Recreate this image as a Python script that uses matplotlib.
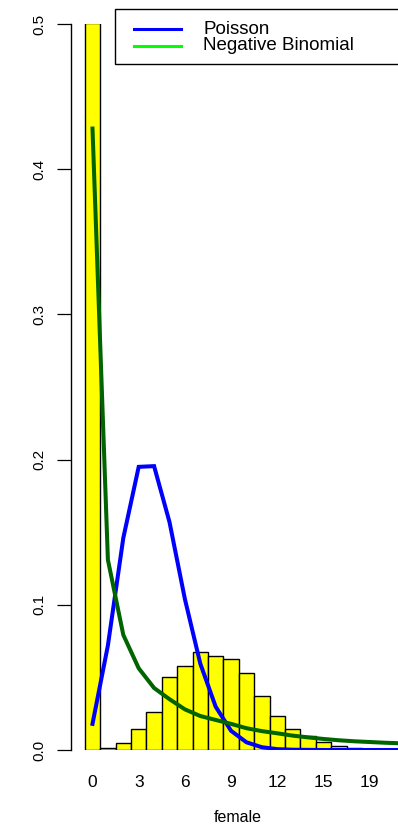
import numpy as np
import matplotlib
matplotlib.use("Agg")
import matplotlib.pyplot as plt
from matplotlib.lines import Line2D
from matplotlib.patches import Rectangle

plt.rcParams['font.family'] = ['Liberation Sans', 'DejaVu Sans']

# observed proportions per count (bar names as R barplot shows them)
bar_names = ["0", "1", "2", "3", "4", "5", "6", "7", "8", "9", "10",
             "11", "12", "13", "14", "15", "16", "17", "19", "20", "21"]
observed = [0.501, 0.0016, 0.005, 0.0145, 0.0264, 0.050, 0.058, 0.0678,
            0.0648, 0.0627, 0.0529, 0.0372, 0.0237, 0.0145, 0.0099, 0.0057,
            0.0026, 0.0012, 0.0008, 0.0005, 0.0003]

# fitted probabilities drawn over the bars
poisson = [0.018, 0.072, 0.146, 0.195, 0.1955, 0.157, 0.104, 0.0595,
           0.0298, 0.0132, 0.0053, 0.0019, 0.0006, 0.0002, 0.0001, 0.0,
           0.0, 0.0, 0.0, 0.0, 0.0, 0.0]
negbin = [0.428, 0.131, 0.0793, 0.0563, 0.0427, 0.035, 0.028, 0.0234,
          0.0207, 0.018, 0.015, 0.013, 0.0115, 0.0099, 0.0087, 0.0076,
          0.0067, 0.006, 0.0055, 0.005, 0.0046, 0.0043]

shown_labels = ["0", "3", "6", "9", "12", "15", "19"]
yticks = [0.0, 0.1, 0.2, 0.3, 0.4, 0.5]
legend_labels = ["Poisson", "Negative Binomial"]
legend_colors = ["#0000FF", "#00FF00"]

W, H = 398, 824
fig = plt.figure(figsize=(W / 100, H / 100), dpi=100)
ax = fig.add_axes([71 / W, 1 - 750 / H, (W - 71) / W, (750 - 24) / H])

pos = np.arange(len(bar_names))
ax.bar(pos, observed, width=1.0, color='#FFFF00', edgecolor='black',
       linewidth=1.0, zorder=1)

lx = np.arange(len(poisson))
ax.plot(lx, poisson, color='#0000FF', lw=2.9, zorder=3,
        solid_joinstyle='miter')
ax.plot(lx, negbin, color='#006400', lw=2.9, zorder=3,
        solid_joinstyle='miter')

ax.set_xlim(-1.396, 19.84)
ax.set_ylim(0, 0.5)

for s in ['top', 'right', 'bottom']:
    ax.spines[s].set_visible(False)
ax.spines['left'].set_linewidth(1.0)

ax.set_yticks(yticks)
ax.set_yticklabels([f"{v:.1f}" for v in yticks], rotation=90, va='center',
                   fontsize=11)
ax.tick_params(axis='y', length=10, width=0.9, pad=8)

idx = [bar_names.index(n) for n in shown_labels]
ax.set_xticks(pos[idx])
ax.set_xticklabels(shown_labels, fontsize=12.5)
ax.tick_params(axis='x', length=0, pad=18)

ax.set_xlabel('female', fontsize=11.5)
ax.xaxis.set_label_coords((238 - 71) / (W - 71), -(810 - 750) / (750 - 24))

# legend box, R style: square frame running off the right edge
fig.patches.append(Rectangle((115 / W, 1 - 64 / H), (420 - 115) / W, 55 / H,
                             transform=fig.transFigure, fill=False,
                             edgecolor='black', linewidth=1.0, clip_on=False))
for i, (lab, col) in enumerate(zip(legend_labels, legend_colors)):
    yy = 1 - (29 + 17 * i) / H
    fig.add_artist(Line2D([134 / W, 181 / W], [yy, yy], color=col, lw=2.2,
                          transform=fig.transFigure))
    fig.text(203 / W, yy, lab, fontsize=13.5, va='center', ha='left')

fig.savefig('out.png', dpi=100)
